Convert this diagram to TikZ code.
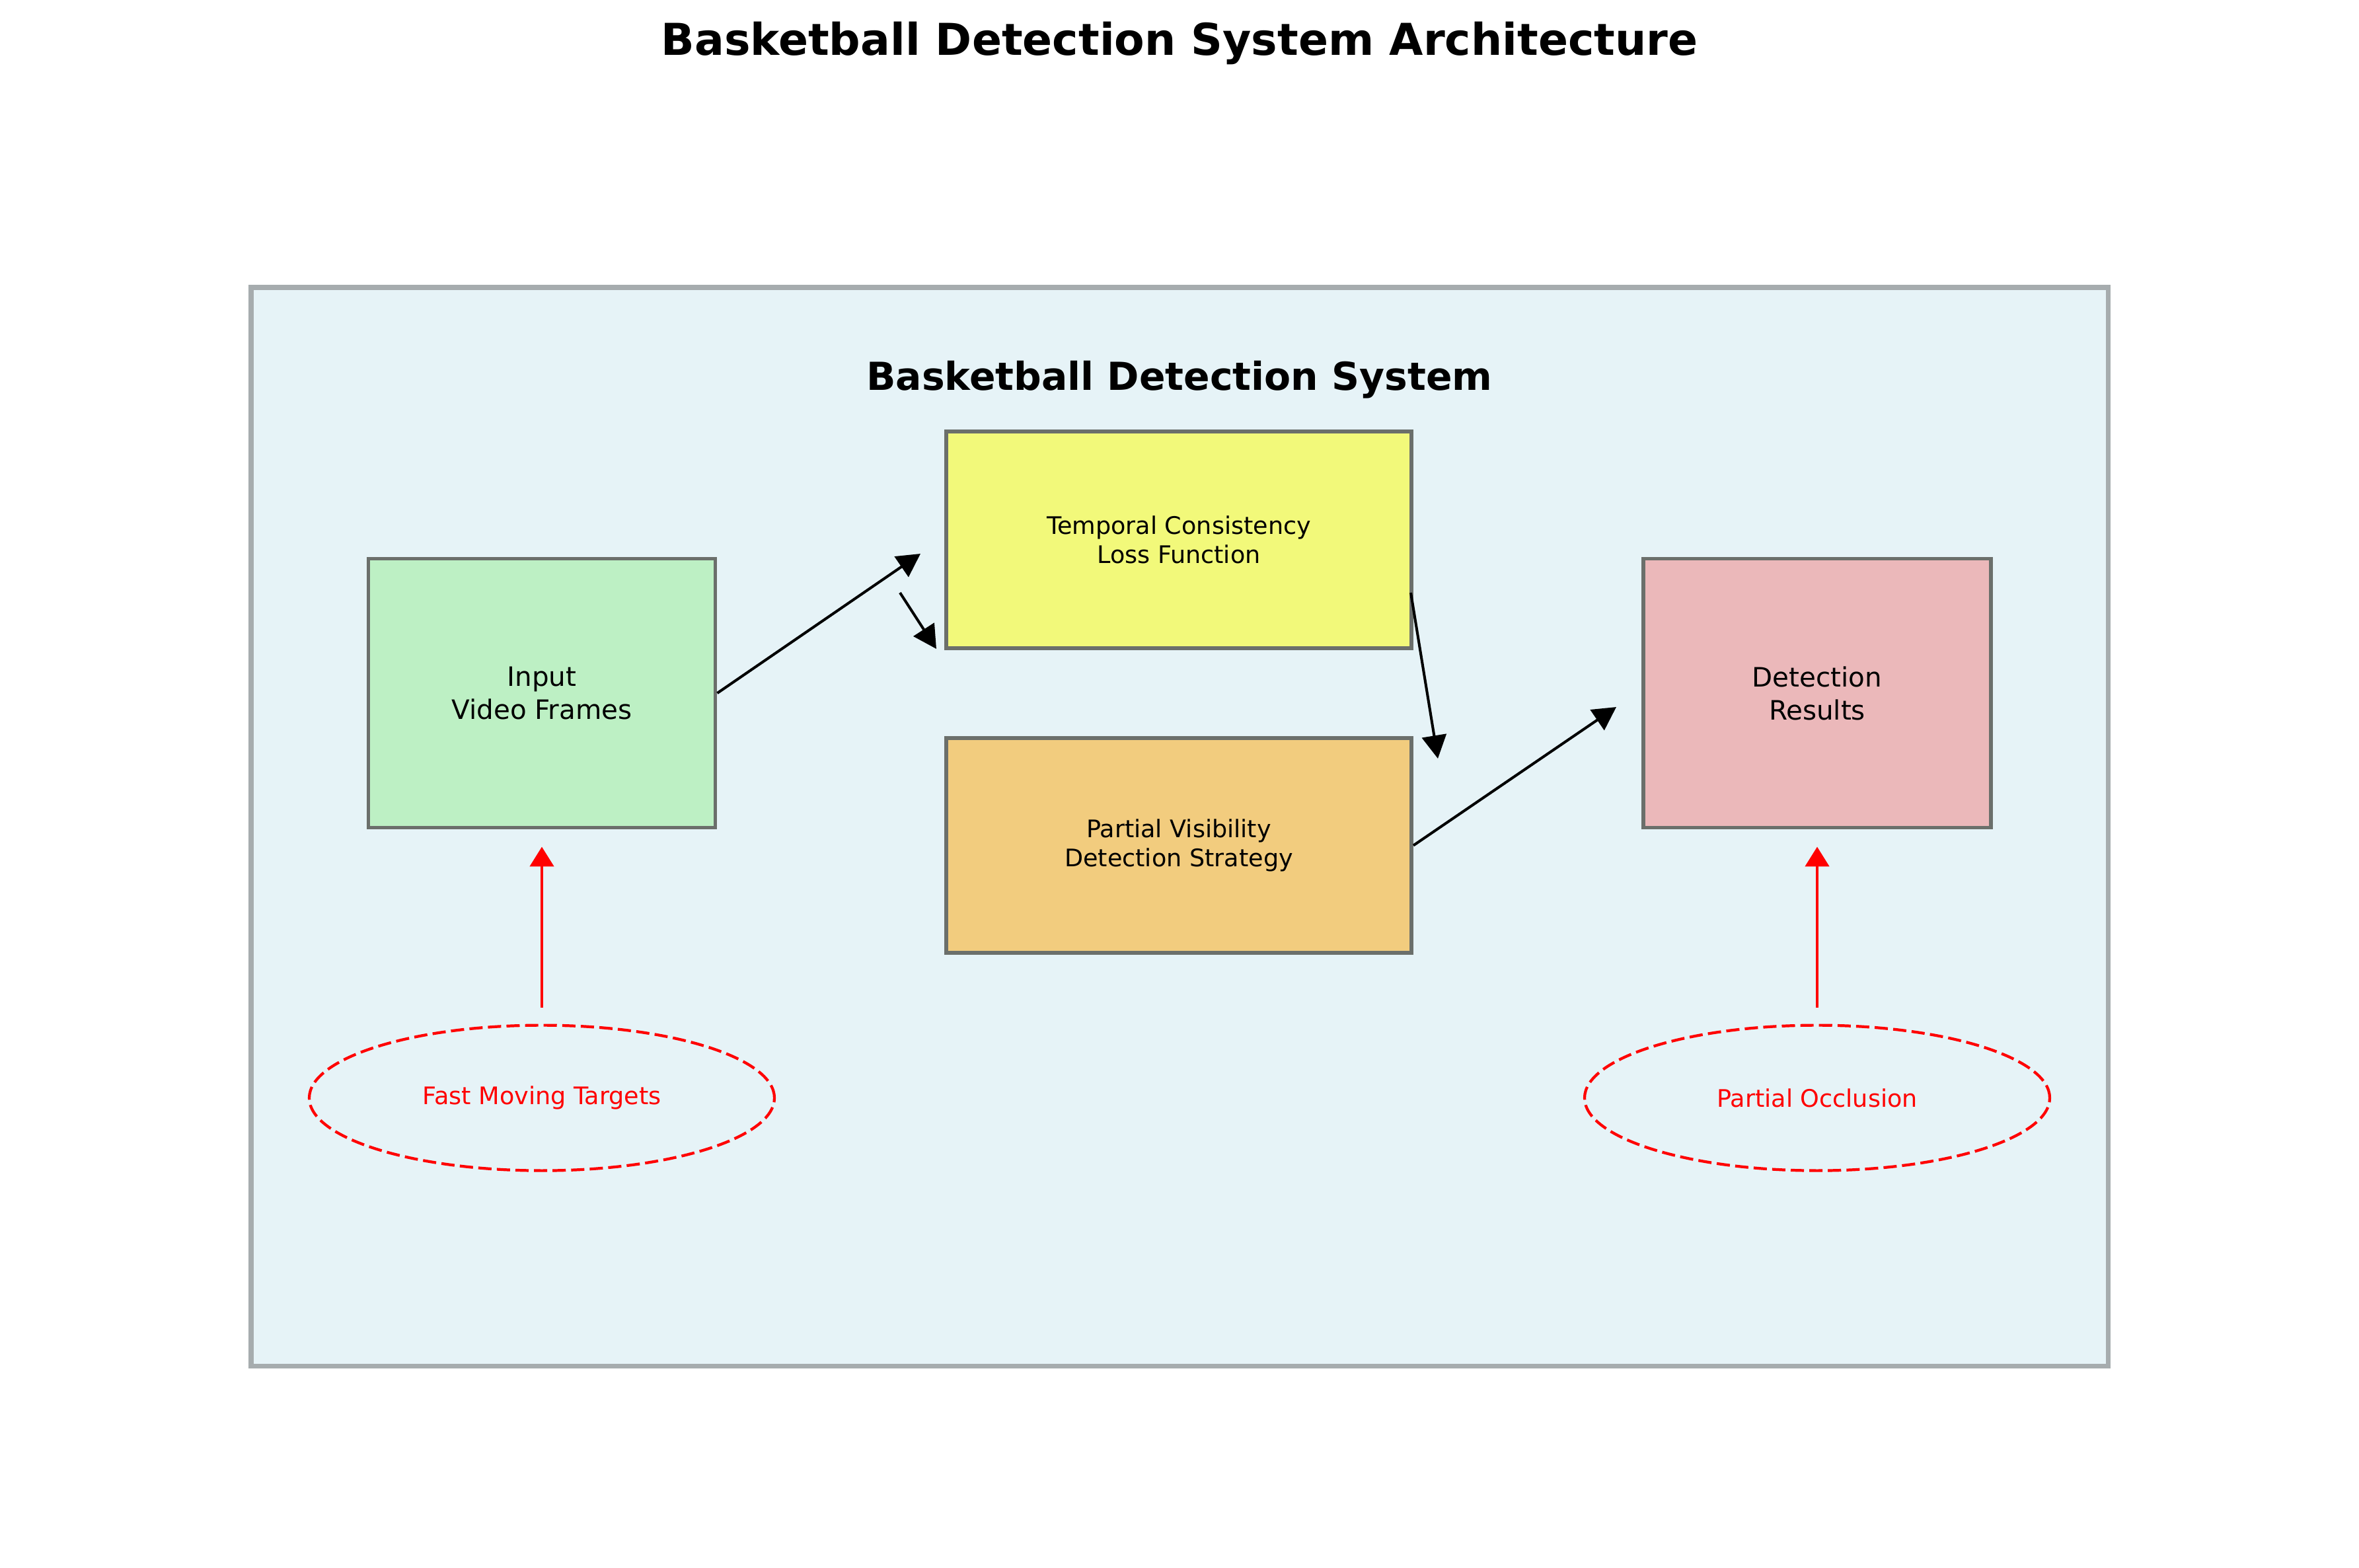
\documentclass[tikz,border=0pt]{standalone}
\usepackage{fontspec}
\setmainfont{DejaVu Sans}
\usetikzlibrary{shapes.geometric, arrows.meta, positioning, calc}

\definecolor{framefill}{HTML}{E6F3F7}
\definecolor{framedraw}{HTML}{A6ACAE}
\definecolor{boxline}{HTML}{6B6F6B}
\definecolor{inputfill}{HTML}{BDF0C4}
\definecolor{lossfill}{HTML}{F2F97A}
\definecolor{partfill}{HTML}{F2CC7E}
\definecolor{resultfill}{HTML}{EBB8BA}

\begin{document}
\begin{tikzpicture}[
  every node/.style={inner sep=0pt},
  block/.style={rectangle, draw=boxline, line width=1.7pt, fill=#1, align=center,
    font=\fontsize{10.4}{12.6}\selectfont},
  bigblock/.style={block=#1, font=\fontsize{11.5}{14.2}\selectfont},
  challenge/.style={ellipse, draw=red, line width=1.2pt, dash pattern=on 5.7pt off 2.3pt,
    minimum width=7.04cm, minimum height=2.2cm, text=red, font=\fontsize{10.4}{12.6}\selectfont},
  arr/.style={-{Triangle[length=0.35cm, width=0.37cm]}, line width=1.15pt, black},
  redarr/.style={-{Triangle[length=0.3cm, width=0.36cm]}, line width=1.4pt, red}
]
\useasboundingbox (0,0) rectangle (35.7,-23.73);

% ===== TITLES =====
\node[anchor=base, font=\fontsize{18.9}{22}\selectfont\bfseries] (title) at (17.85,-0.84)
  {Basketball Detection System Architecture};

% ===== SYSTEM FRAME =====
\node[draw=framedraw, line width=2pt, fill=framefill, minimum width=28.1cm,
  minimum height=16.32cm] (frame) at (17.85,-12.51) {};
\node[anchor=base, font=\fontsize{16.6}{20}\selectfont\bfseries] (systitle) at (17.85,-5.90)
  {Basketball Detection System};

% ===== MODULES =====
\node[bigblock=inputfill, minimum width=5.25cm, minimum height=4.07cm] (inp) at (8.20,-10.49)
  {Input\\Video Frames};
\node[block=lossfill, minimum width=7.04cm, minimum height=3.28cm] (temp) at (17.84,-8.17)
  {Temporal Consistency\\Loss Function};
\node[block=partfill, minimum width=7.04cm, minimum height=3.25cm, below=1.30cm of temp] (part)
  {Partial Visibility\\Detection Strategy};
\node[bigblock=resultfill, minimum width=5.26cm, minimum height=4.07cm] (res) at (27.50,-10.49)
  {Detection\\Results};

% ===== CHALLENGES =====
\node[challenge, below=2.94cm of inp] (fast) {Fast Moving Targets};
\node[challenge, below=2.94cm of res] (occl) {Partial Occlusion};

% ===== FLOW =====
\coordinate (a1) at (13.93,-8.38);
\coordinate (a2s) at (13.62,-8.97);
\coordinate (a2e) at (14.17,-9.82);
\coordinate (a3s) at (21.35,-8.97);
\coordinate (a3e) at (21.76,-11.48);
\coordinate (a4) at (24.46,-10.70);
\draw[arr] (inp.east) -- (a1);
\draw[arr] (a2s) -- (a2e);
\draw[arr] (a3s) -- (a3e);
\draw[arr] (part.east) -- (a4);

\draw[redarr, shorten <=0.25cm, shorten >=0.26cm] (fast.north) -- (inp.south);
\draw[redarr, shorten <=0.25cm, shorten >=0.26cm] (occl.north) -- (res.south);
\end{tikzpicture}
\end{document}
